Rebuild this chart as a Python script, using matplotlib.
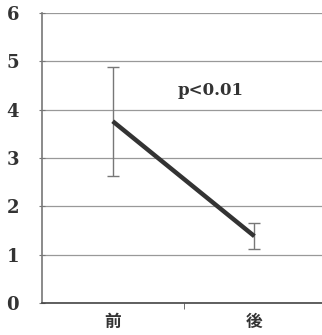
import matplotlib.pyplot as plt
import matplotlib

matplotlib.rcParams.update({'font.size': 12})

labels = ['前', '後']
means = [3.76, 1.38]
errs = [1.13, 0.27]
yticks = [0, 1, 2, 3, 4, 5, 6]

fig = plt.figure()
fig.set_size_inches(3.22, 3.35)
ax = fig.add_axes([0.13, 0.096, 0.88, 0.865])

x = list(range(len(labels)))
ax.errorbar(x, means, yerr=errs, fmt='none', ecolor='#777777', elinewidth=1.0,
            capsize=4, capthick=1.0, zorder=3)
ax.plot(x, means, '-', color='#333333', linewidth=3.2, solid_capstyle='butt', zorder=4)

ax.set_xlim(-0.5, 1.5)
ax.set_ylim(0, 6)
ax.set_yticks(yticks)
ax.yaxis.grid(True, color='#999999', linewidth=0.9)
ax.set_axisbelow(True)

ax.set_xticks(x)
ax.set_xticklabels(labels, fontfamily=['Noto Sans CJK JP', 'DejaVu Sans'],
                   fontsize=12, fontweight='bold', color='#333333')
ax.set_xticks([0.5], minor=True)
ax.tick_params(axis='x', which='major', length=0, pad=7)
ax.tick_params(axis='x', which='minor', length=4, direction='out', color='#555555')
ax.tick_params(axis='y', length=5, direction='inout', color='#777777', pad=14)
for t in ax.get_yticklabels():
    t.set_fontfamily('DejaVu Serif')
    t.set_fontweight('bold')
    t.set_fontsize(13)
    t.set_color('#333333')

for side in ['top', 'right']:
    ax.spines[side].set_visible(False)
ax.spines['left'].set_color('#777777')
ax.spines['left'].set_linewidth(1.2)
ax.spines['bottom'].set_color('#444444')
ax.spines['bottom'].set_linewidth(1.2)

ax.text(0.69, 4.4, 'p<0.01', fontfamily='DejaVu Serif', fontweight='bold',
        fontsize=12, color='#333333', ha='center', va='center')

fig.savefig('out.png', dpi=100)
